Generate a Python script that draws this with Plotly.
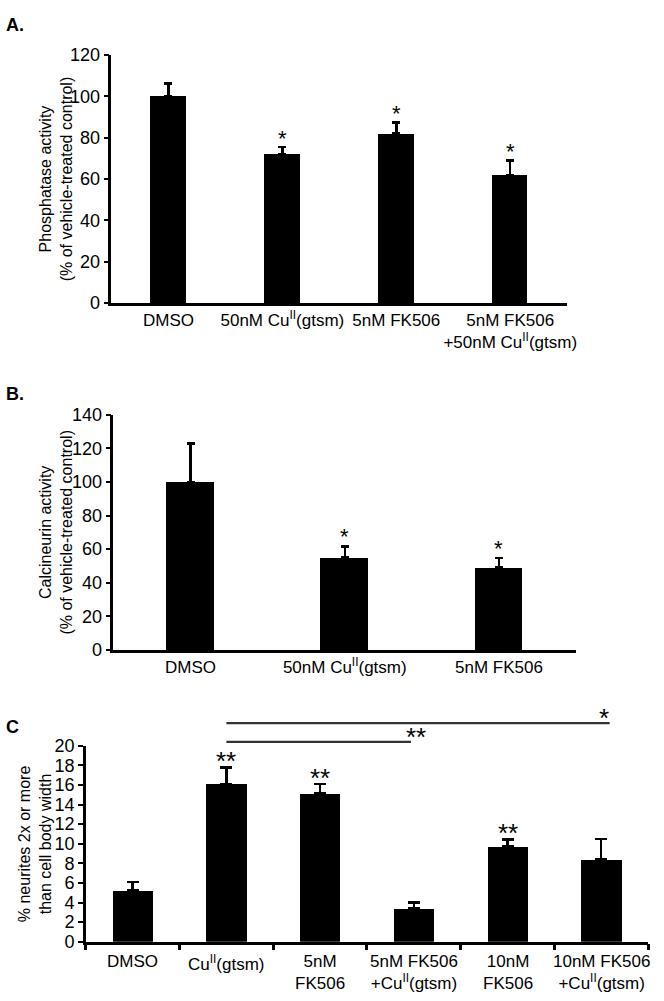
import plotly.graph_objects as go

FONT = "Liberation Sans, Arial, Helvetica, sans-serif"

# ---------- Panel A ----------
a_labels = ["DMSO", "50nM Cu<sup>II</sup>(gtsm)", "5nM FK506", "5nM FK506<br>+50nM Cu<sup>II</sup>(gtsm)"]
a_values = [100, 72, 82, 62]
a_err = [6.3, 3.4, 5.3, 7.1]
a_sig = ["", "*", "*", "*"]
a_ticks = [0, 20, 40, 60, 80, 100, 120]

# ---------- Panel B ----------
b_labels = ["DMSO", "50nM Cu<sup>II</sup>(gtsm)", "5nM FK506"]
b_values = [100, 55, 49]
b_err = [23, 6.6, 5.7]
b_sig = ["", "*", "*"]
b_ticks = [0, 20, 40, 60, 80, 100, 120, 140]

# ---------- Panel C ----------
c_labels = ["DMSO", "Cu<sup>II</sup>(gtsm)", "5nM<br>FK506", "5nM FK506<br>+Cu<sup>II</sup>(gtsm)",
            "10nM<br>FK506", "10nM FK506<br>+Cu<sup>II</sup>(gtsm)"]
c_values = [5.2, 16.1, 15.1, 3.4, 9.7, 8.4]
c_err = [0.9, 1.7, 1.0, 0.6, 0.75, 2.1]
c_sig = ["", "**", "**", "", "**", ""]
c_ticks = list(range(0, 21, 2))
# comparison brackets: (start index, end index, level in data units, label, label x)
c_brackets = [(1, 5.09, 22.3, "*", 5.03), (1, 2.97, 20.4, "**", 3.02)]

W, H = 664, 1001
fig = go.Figure()

panels = [
    dict(labels=a_labels, values=a_values, err=a_err, sig=a_sig, ticks=a_ticks, ymax=120,
         xd=[113 / W, 575 / W], yd=[1 - 299 / H, 1 - 46 / H], bw=0.31, cap=4, fs=17, yfs=18, xticks=False,
         title="Phosphatase activity<br>(% of vehicle-treated control)", tx=57 / W, label="A.", ly=15,
         star=22, sshift=9),
    dict(labels=b_labels, values=b_values, err=b_err, sig=b_sig, ticks=b_ticks, ymax=140,
         xd=[115 / W, 584 / W], yd=[1 - 653 / H, 1 - 413 / H], bw=0.31, cap=4, fs=17, yfs=18, xticks=False,
         title="Calcineurin activity<br>(% of vehicle-treated control)", tx=57 / W, label="B.", ly=392,
         star=22, sshift=10),
    dict(labels=c_labels, values=c_values, err=c_err, sig=c_sig, ticks=c_ticks, ymax=20,
         xd=[87 / W, 657 / W], yd=[1 - 950.7 / H, 1 - 750.7 / H], bw=0.43, cap=6, fs=17, yfs=18, xticks=True,
         title="% neurites 2x or more<br>than cell body width", tx=35 / W, label="C", ly=732,
         star=26, sshift=6),
]

annotations = []
shapes = []
for i, p in enumerate(panels, start=1):
    sx = "" if i == 1 else str(i)
    xs = list(range(len(p["labels"])))
    fig.add_trace(go.Bar(
        x=xs, y=p["values"], width=p["bw"],
        marker=dict(color="black", line=dict(width=0)),
        error_y=dict(type="data", array=p["err"], arrayminus=[0] * len(xs), symmetric=False,
                     color="black", thickness=2.5, width=p["cap"]),
        xaxis="x" + sx, yaxis="y" + sx, showlegend=False,
    ))
    fig.layout["xaxis" + sx] = dict(
        domain=p["xd"], anchor="y" + sx, range=[-0.5, len(xs) - 0.5],
        tickmode="array", tickvals=xs, ticktext=p["labels"],
        showline=True, linecolor="black", linewidth=2.5, showgrid=False, zeroline=False,
        ticks="outside" if p["xticks"] else "", ticklen=6, tickwidth=2.5, tickcolor="black",
        tickfont=dict(family=FONT, size=p["fs"], color="black"),
    )
    if p["xticks"]:
        # ticks at category boundaries; labels drawn as annotations below
        fig.layout["xaxis" + sx].tickvals = [x - 0.5 for x in xs] + [len(xs) - 0.5]
        fig.layout["xaxis" + sx].ticktext = None
        fig.layout["xaxis" + sx].showticklabels = False
    fig.layout["yaxis" + sx] = dict(
        domain=p["yd"], anchor="x" + sx, range=[0, p["ymax"]],
        tickmode="array", tickvals=p["ticks"],
        showline=True, linecolor="black", linewidth=2.5, showgrid=False, zeroline=False,
        ticks="outside", ticklen=5, tickwidth=2, tickcolor="black",
        tickfont=dict(family=FONT, size=p["yfs"], color="black"),
    )
    if p["xticks"]:
        for x, lab in zip(xs, p["labels"]):
            annotations.append(dict(x=x, y=0, xref="x" + sx, yref="y" + sx, text=lab, showarrow=False,
                                    xanchor="center", yanchor="top", yshift=-8,
                                    font=dict(family=FONT, size=p["fs"], color="black")))
    for x, v, e, s in zip(xs, p["values"], p["err"], p["sig"]):
        if s:
            annotations.append(dict(x=x, y=v + e, xref="x" + sx, yref="y" + sx, text=s, showarrow=False,
                                    xanchor="center", yanchor="middle", yshift=p["sshift"],
                                    font=dict(family=FONT, size=p["star"], color="black")))
    annotations.append(dict(x=p["tx"], y=(p["yd"][0] + p["yd"][1]) / 2, xref="paper", yref="paper",
                            text=p["title"], textangle=-90, showarrow=False,
                            xanchor="center", yanchor="middle",
                            font=dict(family=FONT, size=p["fs"] - 1, color="black")))
    annotations.append(dict(x=4 / W, y=1 - p["ly"] / H, xref="paper", yref="paper", text="<b>" + p["label"] + "</b>",
                            showarrow=False, xanchor="left", yanchor="middle",
                            font=dict(family=FONT, size=18, color="black")))

for x0, x1, lvl, s, lx in c_brackets:
    shapes.append(dict(type="line", xref="x3", yref="y3 domain", x0=x0, x1=x1, y0=lvl / 20, y1=lvl / 20,
                       line=dict(color="#333333", width=2.2)))
    annotations.append(dict(x=lx, y=lvl / 20, xref="x3", yref="y3 domain", text=s, showarrow=False,
                            xanchor="center", yanchor="middle", yshift=5,
                            font=dict(family=FONT, size=26, color="black")))

fig.update_layout(
    width=W, height=H, margin=dict(l=0, r=0, t=0, b=0),
    paper_bgcolor="white", plot_bgcolor="white",
    annotations=annotations, shapes=shapes, bargap=0,
)
fig.write_html("out.html", config={"displayModeBar": False},
               post_script="document.body.style.margin='0px';document.body.style.overflow='hidden';")
